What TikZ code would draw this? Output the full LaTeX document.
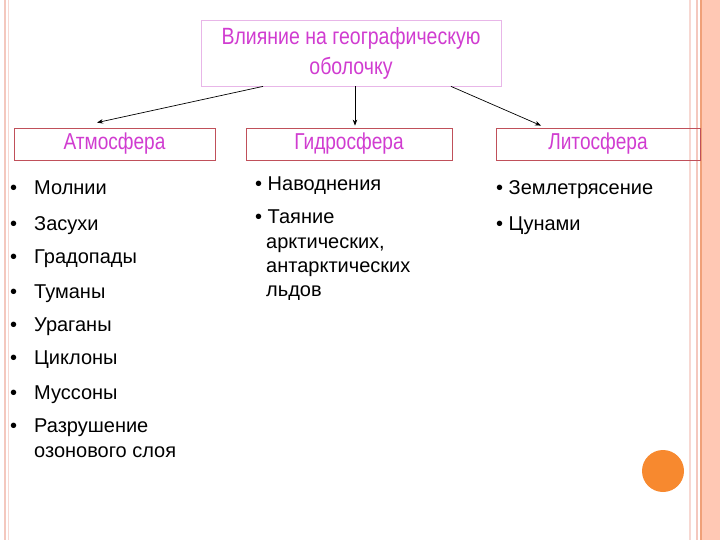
\documentclass[tikz,border=0pt]{standalone}
\usepackage{fontspec}
\setmainfont{Liberation Sans}
\newfontfamily\narrowfont[FakeStretch=0.83]{Liberation Sans}
\usetikzlibrary{arrows.meta, positioning}
\definecolor{titlepink}{RGB}{208,60,208}
\definecolor{headline}{RGB}{232,182,232}
\definecolor{boxred}{RGB}{192,80,90}
\definecolor{frameline}{RGB}{244,200,190}
\definecolor{framefill}{RGB}{255,200,180}
\definecolor{frameorange}{RGB}{240,160,120}
\definecolor{dotorange}{RGB}{247,137,47}

\begin{document}
\begin{tikzpicture}[
            x=1pt, y=-1pt,
            headbox/.style={rectangle, draw=headline, thick, minimum width=300pt, minimum height=66pt, align=center, text=titlepink, font=\narrowfont\fontsize{23.5}{30}\selectfont},
            box/.style={rectangle, draw=boxred, thick, minimum height=32pt, inner sep=0pt, text=titlepink, font=\narrowfont\fontsize{23}{28}\selectfont},
            arrow/.style={-{Stealth[length=6pt, width=4.5pt]}, line width=0.7pt},
            item/.style={anchor=base west, inner sep=0pt, font=\fontsize{20}{22}\selectfont}
        ]
            \useasboundingbox (0,0) rectangle (720,540);
            % slide frame
            \fill[framefill] (702,0) rectangle (720,540);
            \draw[frameorange, line width=1.5pt] (701,0) -- (701,540);
            \draw[frameline, line width=1.5pt] (697,0) -- (697,540);
            \draw[frameline!70, line width=1.5pt] (690,0) -- (690,540);
            \draw[frameline, line width=1.2pt] (5,0) -- (5,540);
            \draw[frameline!70, line width=1pt] (8,0) -- (8,540);
            \fill[dotorange] (663,471) circle (21);

            \node[headbox] (Head) at (351,53) {\raisebox{-2pt}{Влияние на географическую}\\\raisebox{-2pt}{оболочку}};
            \node[box, minimum width=201pt] (Atmo) at (114.5,144) {Атмосфера};
            \node[box, minimum width=206pt] (Hydro) at (349,144) {Гидросфера};
            \node[box, minimum width=204pt] (Lito) at (598,144) {Литосфера};
            \draw[arrow] ([xshift=-88pt]Head.south) -- ([xshift=-17.5pt, yshift=5pt]Atmo.north);
            \draw[arrow] ([xshift=4pt]Head.south) -- ([xshift=6pt, yshift=2pt]Hydro.north);
            \draw[arrow] ([xshift=100pt]Head.south) -- ([xshift=-57pt, yshift=2pt]Lito.north);

            % atmosphere list
            \foreach \y/\txt [count=\i] in {195/Молнии, 230/Засухи, 263/Градопады, 298/Туманы, 331/Ураганы, 364/Циклоны, 399/Муссоны, 432/Разрушение}
                \node[item] (atmo_\i) at (10,\y) {\makebox[24pt][l]{•}\txt};
            \node[item] (atmo_9) at (34,457) {озонового слоя};

            % hydrosphere list
            \node[item] (hydro_1) at (255,191) {• Наводнения};
            \node[item] (hydro_2) at (255,224) {• Таяние};
            \node[item] (hydro_3) at (266,248) {арктических,};
            \node[item] (hydro_4) at (266,272) {антарктических};
            \node[item] (hydro_5) at (266,296) {льдов};

            % lithosphere list
            \node[item] (lito_1) at (496,195) {• Землетрясение};
            \node[item] (lito_2) at (496,230) {• Цунами};
        \end{tikzpicture}
\end{document}
